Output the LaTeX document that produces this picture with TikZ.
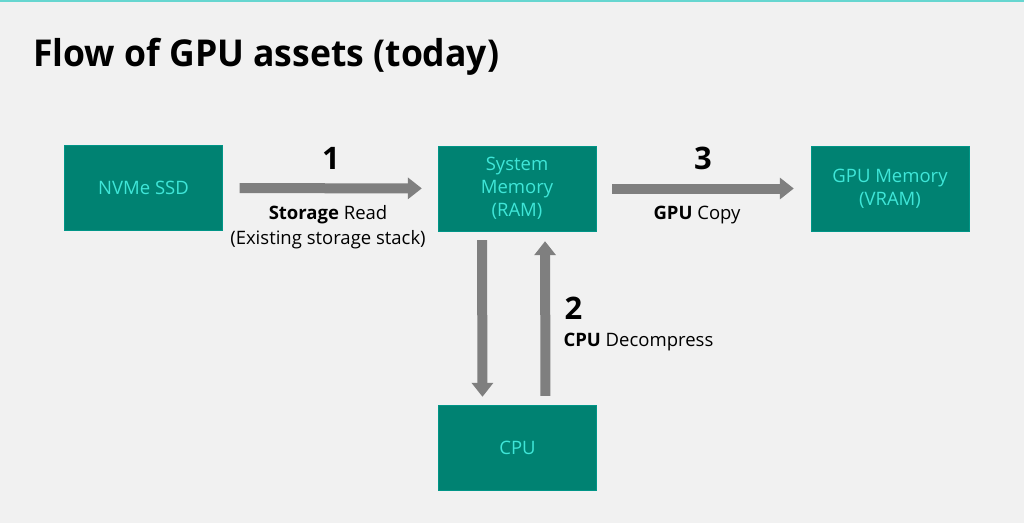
\documentclass[tikz,border=0pt]{standalone}
\usepackage{fontspec}
\setmainfont{Open Sans}
\usetikzlibrary{arrows.meta}
\usetikzlibrary{positioning}
\definecolor{boxteal}{HTML}{008272}
\definecolor{boxtext}{HTML}{3FE6D8}
\definecolor{flowgray}{HTML}{7F7F7F}
\definecolor{slidebg}{HTML}{F1F1F1}
\definecolor{topline}{HTML}{66D6D0}
\tikzset{
  unit/.style={rectangle,fill=boxteal,draw=boxteal!85!cyan,minimum width=158pt,minimum height=85pt,inner sep=0pt,text=boxtext,align=center,font=\fontsize{18.5}{23}\selectfont},
  flow/.style={draw=flowgray,line width=10pt,-{Triangle[length=14pt,width=21pt]}},
  stepnum/.style={font=\fontsize{31}{34}\selectfont\bfseries},
  steptext/.style={font=\fontsize{18.5}{25}\selectfont,align=center},
}
\begin{document}
\begin{tikzpicture}[x=1pt,y=-1pt]
\fill[slidebg] (0,0) rectangle (1024,523);
\useasboundingbox (0,0) rectangle (1024,523);
\fill[topline] (0,0) rectangle (1024,2);
\node[anchor=base west,inner sep=0pt,font=\bfseries\fontsize{37}{44}\selectfont] (title) at (33,66) {\scalebox{0.96}[1]{Flow of GPU assets (today)}};

\node[unit] (ssd) at (143.5,188) {NVMe SSD};
\node[unit] (ram) at (517,188.5) {System\\Memory\\(RAM)};
\node[unit] (vram) at (890,188.5) {GPU Memory\\(VRAM)};
\node[unit] (cpu) at (517.5,447.5) {CPU};

\draw[flow,shorten <=17pt,shorten >=16pt] (ssd) -- (ram);
\draw[flow,shorten <=16pt,shorten >=17pt] (ram) -- (vram);
\draw[flow,shorten <=9pt,shorten >=8pt] ([xshift=-35pt]ram.south) -- ([xshift=-35pt]cpu.north);
\draw[flow,shorten <=9pt,shorten >=10pt] ([xshift=28pt]cpu.north) -- ([xshift=28pt]ram.south);

\node[stepnum] (num1) at (331,158) {1};
\node[steptext] (read) at (328,227) {\textbf{Storage} Read\\(Existing storage stack)};
\node[stepnum,anchor=west] (num2) at (561,308) {2};
\node[steptext,anchor=west] (decomp) at (560,342) {\textbf{CPU} Decompress};
\node[stepnum] (num3) at (703,158) {3};
\node[steptext] (copy) at (697,215) {\textbf{GPU} Copy};
\end{tikzpicture}
\end{document}
